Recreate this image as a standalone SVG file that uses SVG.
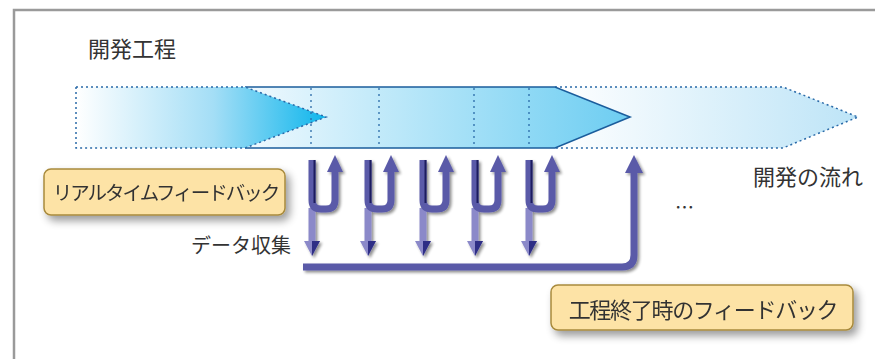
<svg xmlns="http://www.w3.org/2000/svg" width="875" height="359" viewBox="0 0 875 359">
<defs>
<style>
.t{font-family:"Noto Sans CJK JP","Noto Sans",sans-serif;fill:#333;}
.dot{fill:none;stroke:#2a6aa8;stroke-width:1.5;stroke-dasharray:2 3;}
.vd{fill:none;stroke:#2a6aa8;stroke-width:1.3;stroke-dasharray:2 4;}
.u{fill:none;stroke:#5a5aa8;stroke-width:7;}
.dn{fill:none;stroke:#8b89c9;stroke-width:7;}
.box{fill:#fde3a6;stroke:#a88a3c;stroke-width:1.5;}
</style>
<linearGradient id="g1" gradientUnits="userSpaceOnUse" x1="76" y1="0" x2="326" y2="0">
<stop offset="0" stop-color="#ffffff"/><stop offset="0.55" stop-color="#a4def6"/><stop offset="1" stop-color="#0fb6ec"/>
</linearGradient>
<linearGradient id="g2" gradientUnits="userSpaceOnUse" x1="245" y1="0" x2="630" y2="0">
<stop offset="0" stop-color="#f0f9fe"/><stop offset="0.8" stop-color="#86d6f4"/><stop offset="1" stop-color="#6dcdf1"/>
</linearGradient>
<linearGradient id="g3" gradientUnits="userSpaceOnUse" x1="555" y1="0" x2="858" y2="0">
<stop offset="0" stop-color="#ffffff"/><stop offset="1" stop-color="#bde4f7"/>
</linearGradient>
<filter id="sh" x="-20%" y="-20%" width="150%" height="150%">
<feGaussianBlur in="SourceAlpha" stdDeviation="1.5"/><feOffset dx="2" dy="2"/>
<feComponentTransfer><feFuncA type="linear" slope="0.45"/></feComponentTransfer>
<feMerge><feMergeNode/><feMergeNode in="SourceGraphic"/></feMerge>
</filter>
<filter id="bsh" x="-20%" y="-40%" width="140%" height="200%">
<feGaussianBlur in="SourceAlpha" stdDeviation="4"/><feOffset dx="4" dy="5"/>
<feComponentTransfer><feFuncA type="linear" slope="0.4"/></feComponentTransfer>
<feMerge><feMergeNode/><feMergeNode in="SourceGraphic"/></feMerge>
</filter>
</defs>
<rect width="875" height="359" fill="#fff"/>
<path d="M14,359 V10 H875" fill="none" stroke="#9a9a9a" stroke-width="2.5"/>

<g id="title"><text class="t" x="88" y="57" font-size="22">開発工程</text></g>

<g id="band">
<polygon points="555,87 783,87 858,117 783,148 555,148" fill="url(#g3)"/>
<path class="dot" d="M555,87 H783 L858,117 L783,148 H555"/>
<polygon points="245,87 555,87 630,117 555,148 245,148" fill="url(#g2)"/>
<path d="M245,87 H555 L630,117 L555,148 H245" fill="none" stroke="#1b5d9c" stroke-width="1.6"/>
<polygon points="76,87 245,87 326,117 245,148 76,148" fill="url(#g1)"/>
<polygon class="dot" points="76,87 245,87 326,117 245,148 76,148"/>
<path class="vd" d="M311,88 V147 M379,88 V147 M474,88 V147 M529,88 V147"/>
</g>

<g id="flowlabel"><text class="t" x="753" y="185" font-size="22">開発の流れ</text></g>
<g id="ellipsis"><text class="t" x="675" y="215" font-size="19">…</text></g>

<g id="connectors" filter="url(#sh)">
<g id="fb1">
<path class="dn" d="M312,208 V242"/>
<polygon points="304,241 320,241 312,256" fill="#8b89c9"/><polygon points="312,241 320,241 312,256" fill="#2e2e85"/>
<path class="u" d="M312,160 V200 Q312,209 321,209 H326 Q335,209 335,200 V171"/>
<path d="M314.5,160 V203" stroke="#1c1c5e" stroke-width="2"/>
<polygon points="335,155 343,172 327,172" fill="#5a5aa8"/>
</g>
<g id="fb2" transform="translate(56,0)">
<path class="dn" d="M312,208 V242"/>
<polygon points="304,241 320,241 312,256" fill="#8b89c9"/><polygon points="312,241 320,241 312,256" fill="#2e2e85"/>
<path class="u" d="M312,160 V200 Q312,209 321,209 H326 Q335,209 335,200 V171"/>
<path d="M314.5,160 V203" stroke="#1c1c5e" stroke-width="2"/>
<polygon points="335,155 343,172 327,172" fill="#5a5aa8"/>
</g>
<g id="fb3" transform="translate(111,0)">
<path class="dn" d="M312,208 V242"/>
<polygon points="304,241 320,241 312,256" fill="#8b89c9"/><polygon points="312,241 320,241 312,256" fill="#2e2e85"/>
<path class="u" d="M312,160 V200 Q312,209 321,209 H326 Q335,209 335,200 V171"/>
<path d="M314.5,160 V203" stroke="#1c1c5e" stroke-width="2"/>
<polygon points="335,155 343,172 327,172" fill="#5a5aa8"/>
</g>
<g id="fb4" transform="translate(163,0)">
<path class="dn" d="M312,208 V242"/>
<polygon points="304,241 320,241 312,256" fill="#8b89c9"/><polygon points="312,241 320,241 312,256" fill="#2e2e85"/>
<path class="u" d="M312,160 V200 Q312,209 321,209 H326 Q335,209 335,200 V171"/>
<path d="M314.5,160 V203" stroke="#1c1c5e" stroke-width="2"/>
<polygon points="335,155 343,172 327,172" fill="#5a5aa8"/>
</g>
<g id="fb5" transform="translate(217,0)">
<path class="dn" d="M312,208 V242"/>
<polygon points="304,241 320,241 312,256" fill="#8b89c9"/><polygon points="312,241 320,241 312,256" fill="#2e2e85"/>
<path class="u" d="M312,160 V200 Q312,209 321,209 H326 Q335,209 335,200 V171"/>
<path d="M314.5,160 V203" stroke="#1c1c5e" stroke-width="2"/>
<polygon points="335,155 343,172 327,172" fill="#5a5aa8"/>
</g>
<g id="endfb">
<path class="u" d="M303,267 H622 Q634,267 634,255 V172"/>
<polygon points="634,155 643,173 625,173" fill="#5a5aa8"/>
</g>
</g>

<g id="datalabel"><text class="t" x="291" y="253" font-size="20" text-anchor="end">データ収集</text></g>

<g id="realtime" filter="url(#bsh)">
<rect class="box" x="44" y="169" width="241" height="46" rx="7"/>
<text class="t" x="165.5" y="200" font-size="19.5" letter-spacing="-2" text-anchor="middle">リアルタイムフィードバック</text>
</g>
<g id="endlabel" filter="url(#bsh)">
<rect class="box" x="551" y="285" width="302" height="45" rx="7"/>
<text class="t" x="703" y="318" font-size="22" letter-spacing="-1.3" text-anchor="middle">工程終了時のフィードバック</text>
</g>
</svg>
